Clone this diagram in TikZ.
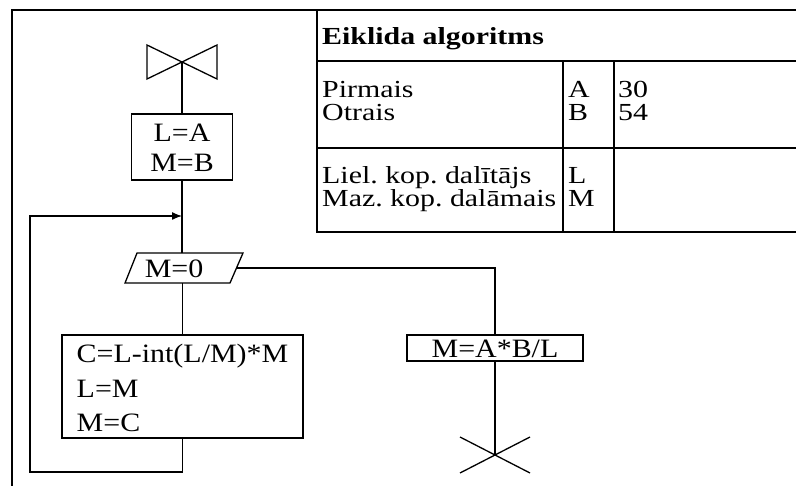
\documentclass[tikz,border=0pt]{standalone}
\usepackage{fontspec}
\setmainfont[FakeStretch=1.13]{Liberation Serif}
\newfontfamily\tablefont[FakeStretch=1.22]{Liberation Serif}
\usetikzlibrary{arrows.meta}
\begin{document}
\begin{tikzpicture}[x=1pt,y=-1pt,
  line/.style={line width=1.3pt},
  frameline/.style={line width=2.4pt},
  gridline/.style={line width=1.5pt},
  txt/.style={font=\fontsize{26.5}{30}\selectfont},
  procbox/.style={draw,line width=1.3pt,inner sep=0pt,txt},
  cell/.style={anchor=base west,inner sep=0pt,font=\tablefont\fontsize{24.5}{24.5}\selectfont},
]
\useasboundingbox (0,0) rectangle (796,486);

% outer frame
\draw[frameline] (12,486) -- (12,10) -- (796,10);

% variable table
\draw[gridline] (317,10) -- (317,232) -- (796,232);
\draw[gridline] (317,61) -- (796,61);
\draw[gridline] (317,148) -- (796,148);
\draw[gridline] (563,61) -- (563,232);
\draw[gridline] (614,61) -- (614,232);

\node[cell,font=\tablefont\bfseries\fontsize{24.5}{24.5}\selectfont] (title) at (322,45) {Eiklida algoritms};
\node[cell] (first)  at (322,98)  {Pirmais};
\node[cell] (second) at (322,121) {Otrais};
\node[cell] (gcd)    at (322,184) {Liel.\ kop.\ dalītājs};
\node[cell] (lcm)    at (322,207) {Maz.\ kop.\ dalāmais};
\node[cell] (va) at (568,98)  {A};
\node[cell] (vb) at (568,121) {B};
\node[cell] (vl) at (568,184) {L};
\node[cell] (vm) at (568,207) {M};
\node[cell] (na) at (618,98)  {30};
\node[cell] (nb) at (618,121) {54};

% flowchart: start symbol
\coordinate (start) at (182,62);
\draw[line] (147,45) -- (217,79) -- (217,45) -- (147,79) -- cycle;

% initial assignment
\node[procbox,minimum width=101pt,minimum height=66pt,align=center,
      text height=58pt,text depth=8pt,font=\fontsize{26.5}{30}\selectfont] (init) at (182,147) {L=A\\M=B};

\coordinate (join) at (182,216);

% loop condition (parallelogram drawn around its text)
\node[txt,inner sep=0pt,text height=25pt,text depth=5pt] (test) at (174,268) {M=0};
\draw[line] ([shift={(-37pt,15pt)}]test.center) -- ([shift={(69pt,15pt)}]test.center)
  -- ([shift={(56pt,-15pt)}]test.center) -- ([shift={(-49pt,-15pt)}]test.center) -- cycle;
\coordinate (testright) at ([xshift=62.5pt]test.center);

% loop body
\node[procbox,minimum width=241pt,minimum height=103pt,align=left,
      text height=97pt,text depth=6pt,font=\fontsize{26.5}{35}\selectfont] (body) at (182.5,386.5)
  {C=L-int(L/M)*M\\L=M\\M=C};

% result
\node[procbox,minimum width=176pt,minimum height=26pt,
      text height=23pt,text depth=3pt] (final) at (495,348) {M=A*B/L};

% end symbol
\coordinate (stop) at (495,455);
\draw[line] (460,437) -- (530,473) (460,473) -- (530,437);

\coordinate (loopcorner) at (30,472);

% connectors
\draw[line] (start) -- (init);
\draw[line] (init.south) -- (init.south |- test.north);
\draw[line] (body.north |- test.south) -- (body.north);
\draw[line,-{Latex[length=10pt,width=8pt]}] (body.south) |- (loopcorner) |- (join);
\draw[line] (testright) -| (final.north);
\draw[line] (final) -- (stop);
\end{tikzpicture}
\end{document}
